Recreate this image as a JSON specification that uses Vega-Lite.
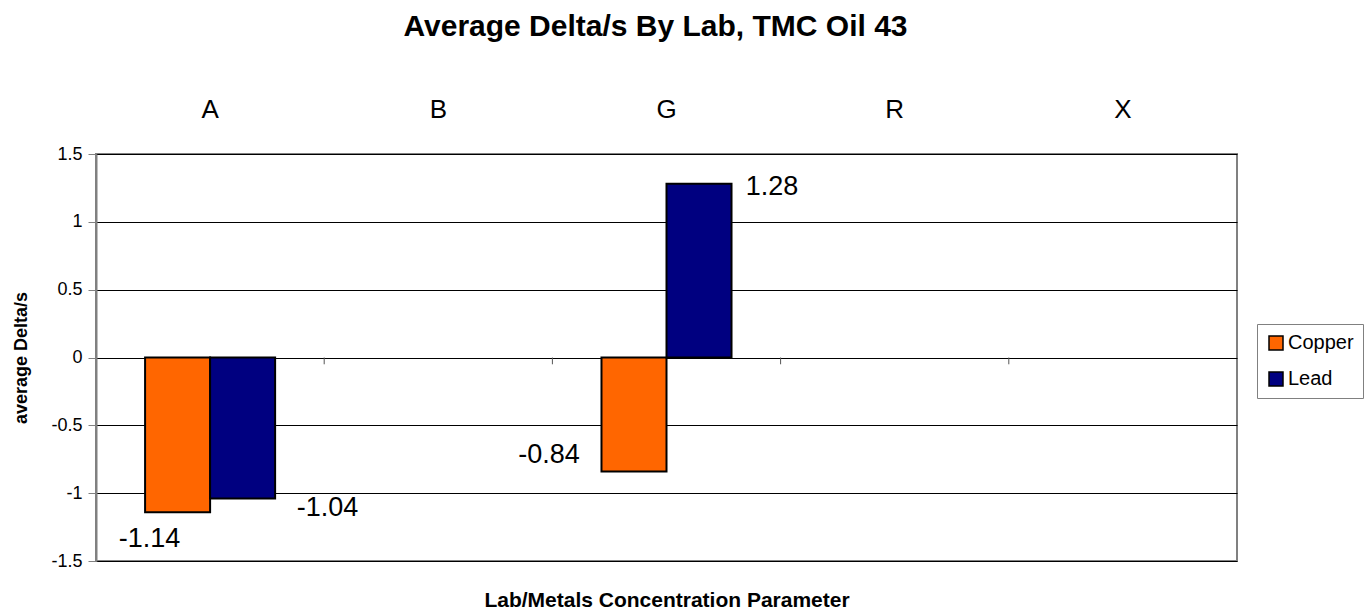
{
  "$schema": "https://vega.github.io/schema/vega-lite/v6.json",
  "width": 1141,
  "height": 407,
  "autosize": {"type": "none"},
  "padding": {"left": 96, "top": 154, "right": 134, "bottom": 50},
  "background": "white",
  "config": {
    "font": "Liberation Sans",
    "view": {"stroke": "#808080", "strokeWidth": 2},
    "axis": {"labelColor": "black", "titleColor": "black"}
  },
  "title": {
    "text": "Average Delta/s By Lab, TMC Oil 43",
    "fontSize": 30,
    "fontWeight": "bold",
    "color": "black",
    "anchor": "middle",
    "dx": -11,
    "offset": 54
  },
  "data": {
    "values": [
      {"lab": "A", "metal": "Copper", "value": -1.14},
      {"lab": "A", "metal": "Lead", "value": -1.04},
      {"lab": "G", "metal": "Copper", "value": -0.84},
      {"lab": "G", "metal": "Lead", "value": 1.28}
    ]
  },
  "resolve": {"axis": {"x": "independent"}},
  "layer": [
    {
      "mark": {"type": "bar", "stroke": "black", "strokeWidth": 2},
      "encoding": {
        "x": {
          "field": "lab",
          "type": "nominal",
          "scale": {"domain": ["A", "B", "G", "R", "X"], "paddingInner": 0, "paddingOuter": 0},
          "axis": {
            "orient": "top",
            "title": null,
            "labelAngle": 0,
            "labelFontSize": 26,
            "ticks": false,
            "domain": false,
            "labelPadding": 32
          }
        },
        "xOffset": {
          "field": "metal",
          "type": "nominal",
          "scale": {"domain": ["Copper", "Lead"], "paddingInner": 0, "paddingOuter": 0.755}
        },
        "y": {
          "field": "value",
          "type": "quantitative",
          "scale": {"domain": [-1.5, 1.5], "nice": false, "zero": false},
          "axis": {
            "title": "average Delta/s",
            "titleFontSize": 18,
            "titleFontWeight": "bold",
            "titlePadding": 20,
            "values": [-1.5, -1, -0.5, 0, 0.5, 1, 1.5],
            "labelExpr": "toString(datum.value)",
            "labelFontSize": 18,
            "labelPadding": 6,
            "tickSize": 8,
            "tickColor": "#808080",
            "domainColor": "#808080",
            "domainWidth": 2,
            "grid": true,
            "gridColor": "black",
            "gridWidth": 1
          }
        },
        "color": {
          "field": "metal",
          "type": "nominal",
          "scale": {"domain": ["Copper", "Lead"], "range": ["#FF6600", "#000080"]},
          "legend": {
            "title": null,
            "orient": "none",
            "legendX": 1161,
            "legendY": 170,
            "strokeColor": "#808080",
            "fillColor": "white",
            "padding": 9,
            "symbolType": "square",
            "symbolSize": 196,
            "symbolStrokeColor": "black",
            "symbolStrokeWidth": 1.5,
            "symbolOpacity": 1,
            "labelFontSize": 20,
            "labelColor": "black",
            "labelOffset": 2,
            "rowPadding": 16
          }
        }
      }
    },
    {
      "data": {"values": [{"lab": "B"}, {"lab": "G"}, {"lab": "R"}, {"lab": "X"}]},
      "mark": {"type": "rule", "color": "#555555", "strokeWidth": 1},
      "encoding": {
        "x": {
          "field": "lab",
          "type": "nominal",
          "bandPosition": 0,
          "axis": {
            "orient": "bottom",
            "title": "Lab/Metals Concentration Parameter",
            "titleFontSize": 21,
            "titleFontWeight": "bold",
            "titlePadding": 28,
            "labels": false,
            "ticks": false,
            "domain": false
          }
        },
        "y": {"datum": 0, "type": "quantitative"},
        "y2": {"datum": -0.05}
      }
    },
    {
      "transform": [{"filter": "datum.lab == 'A' && datum.metal == 'Copper'"}],
      "mark": {"type": "text", "fontSize": 27, "baseline": "middle", "align": "center", "dx": -28, "dy": 27, "color": "black"},
      "encoding": {
        "x": {"field": "lab", "type": "nominal", "axis": null},
        "xOffset": {"field": "metal", "type": "nominal"},
        "y": {"field": "value", "type": "quantitative"},
        "text": {"field": "value", "type": "nominal"}
      }
    },
    {
      "transform": [{"filter": "datum.lab == 'A' && datum.metal == 'Lead'"}],
      "mark": {"type": "text", "fontSize": 27, "baseline": "middle", "align": "center", "dx": 85, "dy": 9, "color": "black"},
      "encoding": {
        "x": {"field": "lab", "type": "nominal", "axis": null},
        "xOffset": {"field": "metal", "type": "nominal"},
        "y": {"field": "value", "type": "quantitative"},
        "text": {"field": "value", "type": "nominal"}
      }
    },
    {
      "transform": [{"filter": "datum.lab == 'G' && datum.metal == 'Copper'"}],
      "mark": {"type": "text", "fontSize": 27, "baseline": "middle", "align": "center", "dx": -85, "dy": -16, "color": "black"},
      "encoding": {
        "x": {"field": "lab", "type": "nominal", "axis": null},
        "xOffset": {"field": "metal", "type": "nominal"},
        "y": {"field": "value", "type": "quantitative"},
        "text": {"field": "value", "type": "nominal"}
      }
    },
    {
      "transform": [{"filter": "datum.lab == 'G' && datum.metal == 'Lead'"}],
      "mark": {"type": "text", "fontSize": 27, "baseline": "middle", "align": "center", "dx": 73, "dy": 3, "color": "black"},
      "encoding": {
        "x": {"field": "lab", "type": "nominal", "axis": null},
        "xOffset": {"field": "metal", "type": "nominal"},
        "y": {"field": "value", "type": "quantitative"},
        "text": {"field": "value", "type": "nominal"}
      }
    }
  ]
}
